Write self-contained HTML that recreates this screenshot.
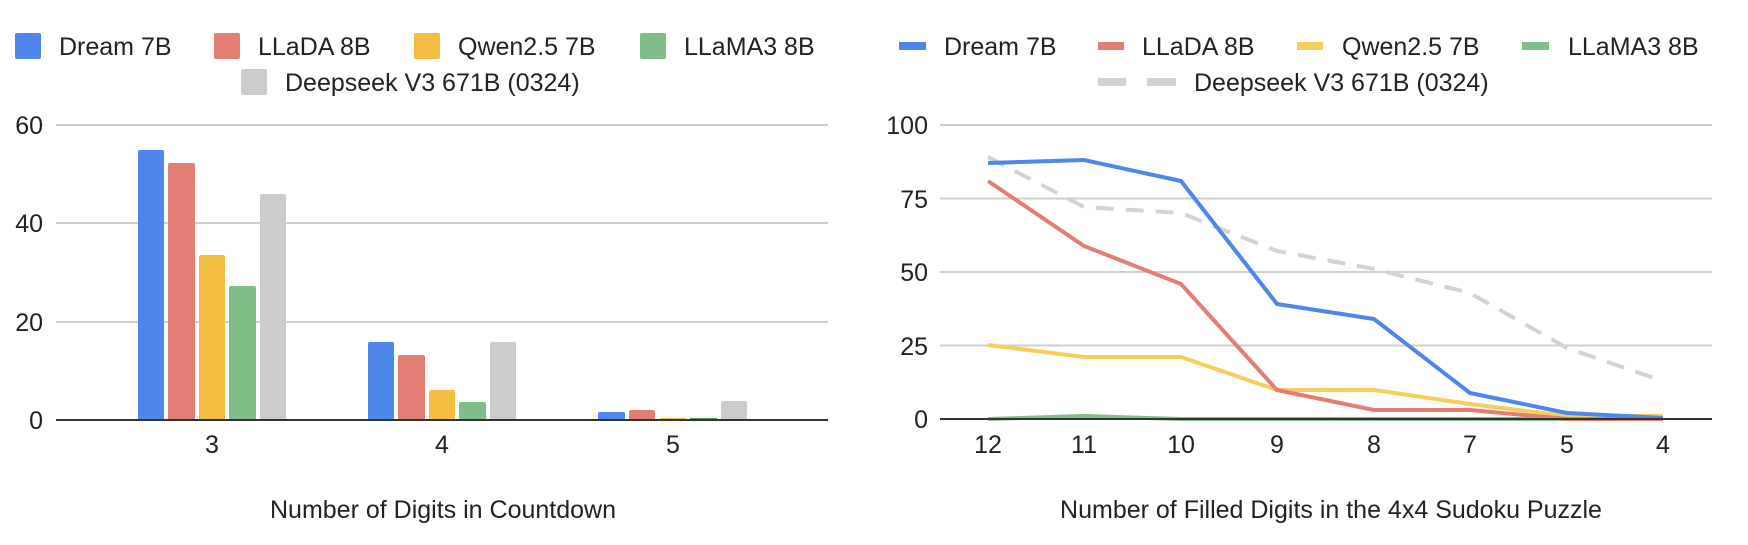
<!DOCTYPE html>
<html><head><meta charset="utf-8"><style>
html,body{margin:0;padding:0;background:#fff;}
svg text{font-family:"Liberation Sans",Arial,sans-serif;fill:#222;}
</style></head><body>
<svg width="1748" height="540" viewBox="0 0 1748 540" xmlns="http://www.w3.org/2000/svg">
<g font-size="25">
<rect x="15" y="33" width="26" height="26" rx="2" fill="#4f86ec"/><text x="59" y="55">Dream 7B</text>
<rect x="214" y="33" width="26" height="26" rx="2" fill="#e27e74"/><text x="258" y="55">LLaDA 8B</text>
<rect x="414" y="33" width="26" height="26" rx="2" fill="#f2bd42"/><text x="458" y="55">Qwen2.5 7B</text>
<rect x="640" y="33" width="26" height="26" rx="2" fill="#81be87"/><text x="684" y="55">LLaMA3 8B</text>
<rect x="241" y="69" width="26" height="26" rx="2" fill="#cccccc"/><text x="285" y="91">Deepseek V3 671B (0324)</text>
</g>
<g stroke="#cfcfcf" stroke-width="2">
<line x1="56" y1="125" x2="828" y2="125"/>
<line x1="56" y1="223" x2="828" y2="223"/>
<line x1="56" y1="322" x2="828" y2="322"/>
</g>
<g font-size="25" text-anchor="end">
<text x="43" y="134">60</text><text x="43" y="232">40</text><text x="43" y="331">20</text><text x="43" y="429">0</text>
</g>
<g>
<rect x="138" y="150" width="26" height="270" rx="2" fill="#4f86ec"/>
<rect x="168" y="163" width="27" height="257" rx="2" fill="#e27e74"/>
<rect x="199" y="255" width="26" height="165" rx="2" fill="#f2bd42"/>
<rect x="229" y="286" width="27" height="134" rx="2" fill="#81be87"/>
<rect x="260" y="194" width="26" height="226" rx="2" fill="#cccccc"/>
<rect x="368" y="342" width="26" height="78" rx="2" fill="#4f86ec"/>
<rect x="398" y="355" width="27" height="65" rx="2" fill="#e27e74"/>
<rect x="429" y="390" width="26" height="30" rx="2" fill="#f2bd42"/>
<rect x="459" y="402" width="27" height="18" rx="2" fill="#81be87"/>
<rect x="490" y="342" width="26" height="78" rx="2" fill="#cccccc"/>
<rect x="598" y="412" width="27" height="8" rx="2" fill="#4f86ec"/>
<rect x="629" y="410" width="26" height="10" rx="2" fill="#e27e74"/>
<rect x="660" y="418" width="26" height="2" fill="#f2bd42"/>
<rect x="690" y="418" width="27" height="2" fill="#4e9a5a"/>
<rect x="721" y="401" width="26" height="19" rx="2" fill="#cccccc"/>
</g>
<line x1="56" y1="420" x2="828" y2="420" stroke="#333" stroke-width="2"/>
<g font-size="25" text-anchor="middle">
<text x="212" y="453">3</text><text x="442" y="453">4</text><text x="673" y="453">5</text>
<text x="443" y="518">Number of Digits in Countdown</text>
</g>

<g font-size="25">
<line x1="899" y1="46" x2="926" y2="46" stroke="#4f86ec" stroke-width="8"/><text x="944" y="55">Dream 7B</text>
<line x1="1098" y1="46" x2="1124" y2="46" stroke="#e27e74" stroke-width="8"/><text x="1142" y="55">LLaDA 8B</text>
<line x1="1297" y1="46" x2="1323" y2="46" stroke="#f6cf5a" stroke-width="8"/><text x="1342" y="55">Qwen2.5 7B</text>
<line x1="1522" y1="46" x2="1549" y2="46" stroke="#81be87" stroke-width="8"/><text x="1568" y="55">LLaMA3 8B</text>
<line x1="1098" y1="82" x2="1126" y2="82" stroke="#d3d3d3" stroke-width="8"/>
<line x1="1147" y1="82" x2="1176" y2="82" stroke="#d3d3d3" stroke-width="8"/>
<text x="1194" y="91">Deepseek V3 671B (0324)</text>
</g>
<g stroke="#cfcfcf" stroke-width="2">
<line x1="940" y1="125" x2="1712" y2="125"/>
<line x1="940" y1="198.5" x2="1712" y2="198.5"/>
<line x1="940" y1="272" x2="1712" y2="272"/>
<line x1="940" y1="345.5" x2="1712" y2="345.5"/>
</g>
<g font-size="25" text-anchor="end">
<text x="928" y="134">100</text><text x="928" y="208">75</text><text x="928" y="281">50</text><text x="928" y="355">25</text><text x="928" y="428">0</text>
</g>
<g fill="none" stroke-width="4" stroke-linejoin="round">
<polyline stroke="#d3d3d3" stroke-dasharray="18,12" points="988,157 1084,207 1181,213 1277,251 1374,269 1470,293 1567,348 1663,381"/>
<polyline stroke="#81be87" points="988,419 1084,416 1181,419 1277,419 1374,419 1470,419 1567,419 1663,419"/>
<polyline stroke="#f6cf5a" points="988,345 1084,357 1181,357 1277,390 1374,390 1470,404 1567,416 1663,416"/>
<polyline stroke="#e27e74" points="988,181 1084,246 1181,284 1277,390 1374,410 1470,410 1567,419 1663,419"/>
<polyline stroke="#4f86ec" points="988,163 1084,160 1181,181 1277,304 1374,319 1470,393 1567,413 1663,418"/>
</g>
<line x1="940" y1="419" x2="1712" y2="419" stroke="#333" stroke-width="2"/>
<g font-size="25" text-anchor="middle">
<text x="988" y="453">12</text><text x="1084" y="453">11</text><text x="1181" y="453">10</text><text x="1277" y="453">9</text>
<text x="1374" y="453">8</text><text x="1470" y="453">7</text><text x="1567" y="453">5</text><text x="1663" y="453">4</text>
<text x="1331" y="518">Number of Filled Digits in the 4x4 Sudoku Puzzle</text>
</g>
</svg>
</body></html>
